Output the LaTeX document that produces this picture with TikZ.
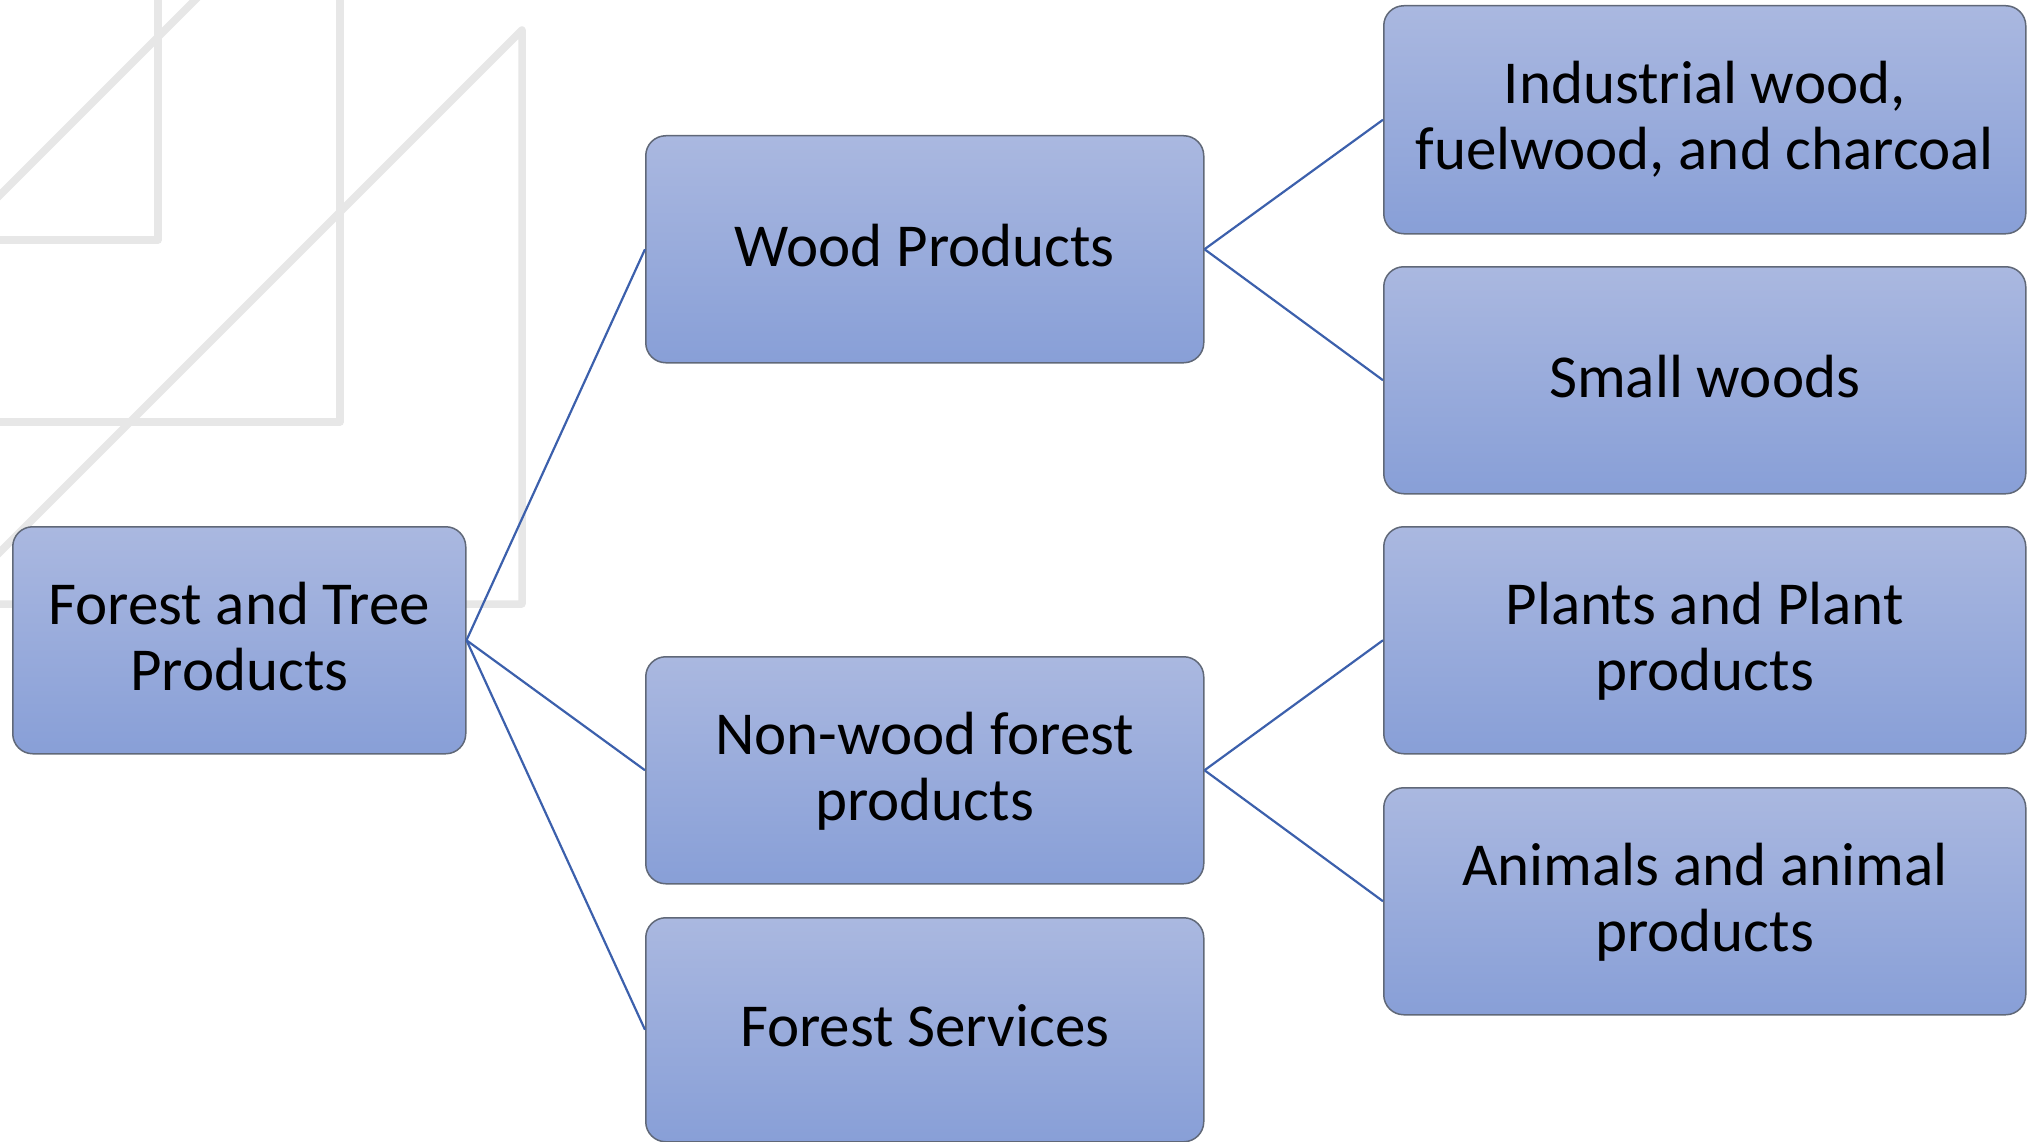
\documentclass[tikz,border=0pt]{standalone}
\usepackage{fontspec}
\setmainfont{Carlito}
\definecolor{boxtop}{RGB}{170,184,224}
\definecolor{boxbottom}{RGB}{136,159,215}
\definecolor{boxedge}{RGB}{96,104,120}
\definecolor{linkblue}{RGB}{60,96,172}
\definecolor{decogray}{RGB}{231,231,231}
\begin{document}
\begin{tikzpicture}[x=1pt,y=-1pt,
  deco/.style={draw=decogray, line width=7.5pt, line join=round},
  box/.style={draw=boxedge, line width=1.5pt, rounded corners=20pt,
    top color=boxtop, bottom color=boxbottom, anchor=north west,
    inner sep=0pt, align=center, text=black, text depth=8pt,
    font=\fontsize{61}{66}\selectfont},
  link/.style={draw=linkblue, line width=2.2pt}]
\useasboundingbox (0,0) rectangle (2028,1142);

% light decorative outline strokes in the background
\draw[deco] (158,-10) -- (158,240) -- (-10,240);
\draw[deco] (205,-10) -- (-10,205);
\draw[deco] (340,-10) -- (340,422) -- (-10,422);
\draw[deco] (-10,562) -- (522,30) -- (522,604) -- (-10,604);

% hierarchy boxes
\node[box, minimum width=453pt, minimum height=227pt] (root) at (12,526)
  {Forest and Tree\\Products};
\node[box, minimum width=558pt, minimum height=227pt] (wood) at (645,135)
  {Wood Products};
\node[box, minimum width=558pt, minimum height=227pt] (nonwood) at (645,656)
  {Non-wood forest\\products};
\node[box, minimum width=558pt, minimum height=224pt] (services) at (645,917)
  {Forest Services};
\node[box, minimum width=642pt, minimum height=228pt] (industrial) at (1383,5)
  {Industrial wood,\\fuelwood, and charcoal};
\node[box, minimum width=642pt, minimum height=227pt] (small) at (1383,266)
  {Small woods};
\node[box, minimum width=642pt, minimum height=227pt] (plants) at (1383,526)
  {Plants and Plant\\products};
\node[box, minimum width=642pt, minimum height=227pt] (animals) at (1383,787)
  {Animals and animal\\products};

% connectors
\draw[link] (root.east) -- (wood.west);
\draw[link] (root.east) -- (nonwood.west);
\draw[link] (root.east) -- (services.west);
\draw[link] (wood.east) -- (industrial.west);
\draw[link] (wood.east) -- (small.west);
\draw[link] (nonwood.east) -- (plants.west);
\draw[link] (nonwood.east) -- (animals.west);
\end{tikzpicture}
\end{document}
